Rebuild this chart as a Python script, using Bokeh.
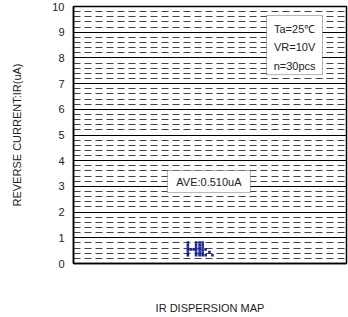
from bokeh.plotting import figure
from bokeh.models import FixedTicker, Label, BoxAnnotation
from bokeh.embed import file_html
from bokeh.resources import INLINE

# ---- data ----
y_ticks = [0, 1, 2, 3, 4, 5, 6, 7, 8, 9, 10]
y_minor = [round(i * 0.2, 1) for i in range(51) if i % 5 != 0]
# 30 samples: position within the dispersion map and reverse current (uA)
sample_x = [41.9] * 6 + [42.9] + [44.0] + [44.9] * 6 + [46.2] * 6 + [47.3] * 6 + [48.4] * 2 + [49.8] * 1 + [50.9]
sample_ir = ([0.32, 0.42, 0.52, 0.62, 0.72, 0.82]
             + [0.55] + [0.55]
             + [0.32, 0.42, 0.52, 0.62, 0.72, 0.82]
             + [0.32, 0.42, 0.52, 0.62, 0.72, 0.82]
             + [0.32, 0.42, 0.52, 0.62, 0.72, 0.82]
             + [0.32, 0.55]
             + [0.45]
             + [0.32])
ave_text = "AVE:0.510uA"
cond_text = ["Ta=25\u2103", "VR=10V", "n=30pcs"]
font = "Liberation Sans"

p = figure(width=348, height=317, x_range=(0, 100), y_range=(0, 10),
           output_backend="svg", toolbar_location=None,
           min_border_left=73, min_border_right=2, min_border_top=6, min_border_bottom=54)
p.background_fill_color = "white"
p.border_fill_color = "white"
p.outline_line_color = "black"
p.outline_line_width = 1.5

# grids
p.xgrid.visible = False
p.yaxis.ticker = FixedTicker(ticks=y_ticks, minor_ticks=y_minor)
p.ygrid.grid_line_color = "black"
p.ygrid.grid_line_width = 1
p.ygrid.minor_grid_line_color = "#444444"
p.ygrid.minor_grid_line_dash = "7 4"
p.ygrid.minor_grid_line_width = 1

# y axis
ya = p.yaxis[0]
ya.axis_line_color = "black"
ya.axis_line_width = 1.5
ya.major_tick_in = 0
ya.major_tick_out = 0
ya.minor_tick_in = 0
ya.minor_tick_out = 0
ya.major_label_standoff = 9
ya.major_label_text_font = font
ya.major_label_text_font_size = "11px"
ya.major_label_text_color = "#222222"
ya.axis_label = "REVERSE CURRENT:IR(uA)"
ya.axis_label_text_font = font
ya.axis_label_text_font_size = "11px"
ya.axis_label_text_font_style = "normal"
ya.axis_label_text_color = "#222222"
ya.axis_label_standoff = 26

# x axis
xa = p.xaxis[0]
xa.ticker = FixedTicker(ticks=[])
xa.axis_line_color = "black"
xa.axis_line_width = 1.5
xa.major_tick_in = 0
xa.major_tick_out = 0
xa.minor_tick_in = 0
xa.minor_tick_out = 0
xa.axis_label = "IR DISPERSION MAP"
xa.axis_label_text_font = font
xa.axis_label_text_font_size = "11px"
xa.axis_label_text_font_style = "normal"
xa.axis_label_text_color = "#222222"
xa.axis_label_standoff = 38

# samples
p.scatter(sample_x, sample_ir, marker="square", size=2.6, color="#1a2290", line_color=None)

# condition box
p.add_layout(BoxAnnotation(left=70.7, right=91.2, bottom=7.35, top=9.65,
                           fill_color="white", fill_alpha=1,
                           line_color="black", line_width=1))
for i, t in enumerate(cond_text):
    p.add_layout(Label(x=81.0, y=9.14 - i * 0.72, text=t, text_align="center",
                       text_baseline="middle", text_font=font,
                       text_font_size="11px", text_color="#222222"))

# average box
p.add_layout(BoxAnnotation(left=34.4, right=64.8, bottom=2.76, top=3.62,
                           fill_color="white", fill_alpha=1,
                           line_color="black", line_width=1))
p.add_layout(Label(x=49.6, y=3.19, text=ave_text, text_align="center",
                   text_baseline="middle", text_font=font,
                   text_font_size="11px", text_color="#222222"))

open("out.html", "w").write(file_html(p, INLINE))
